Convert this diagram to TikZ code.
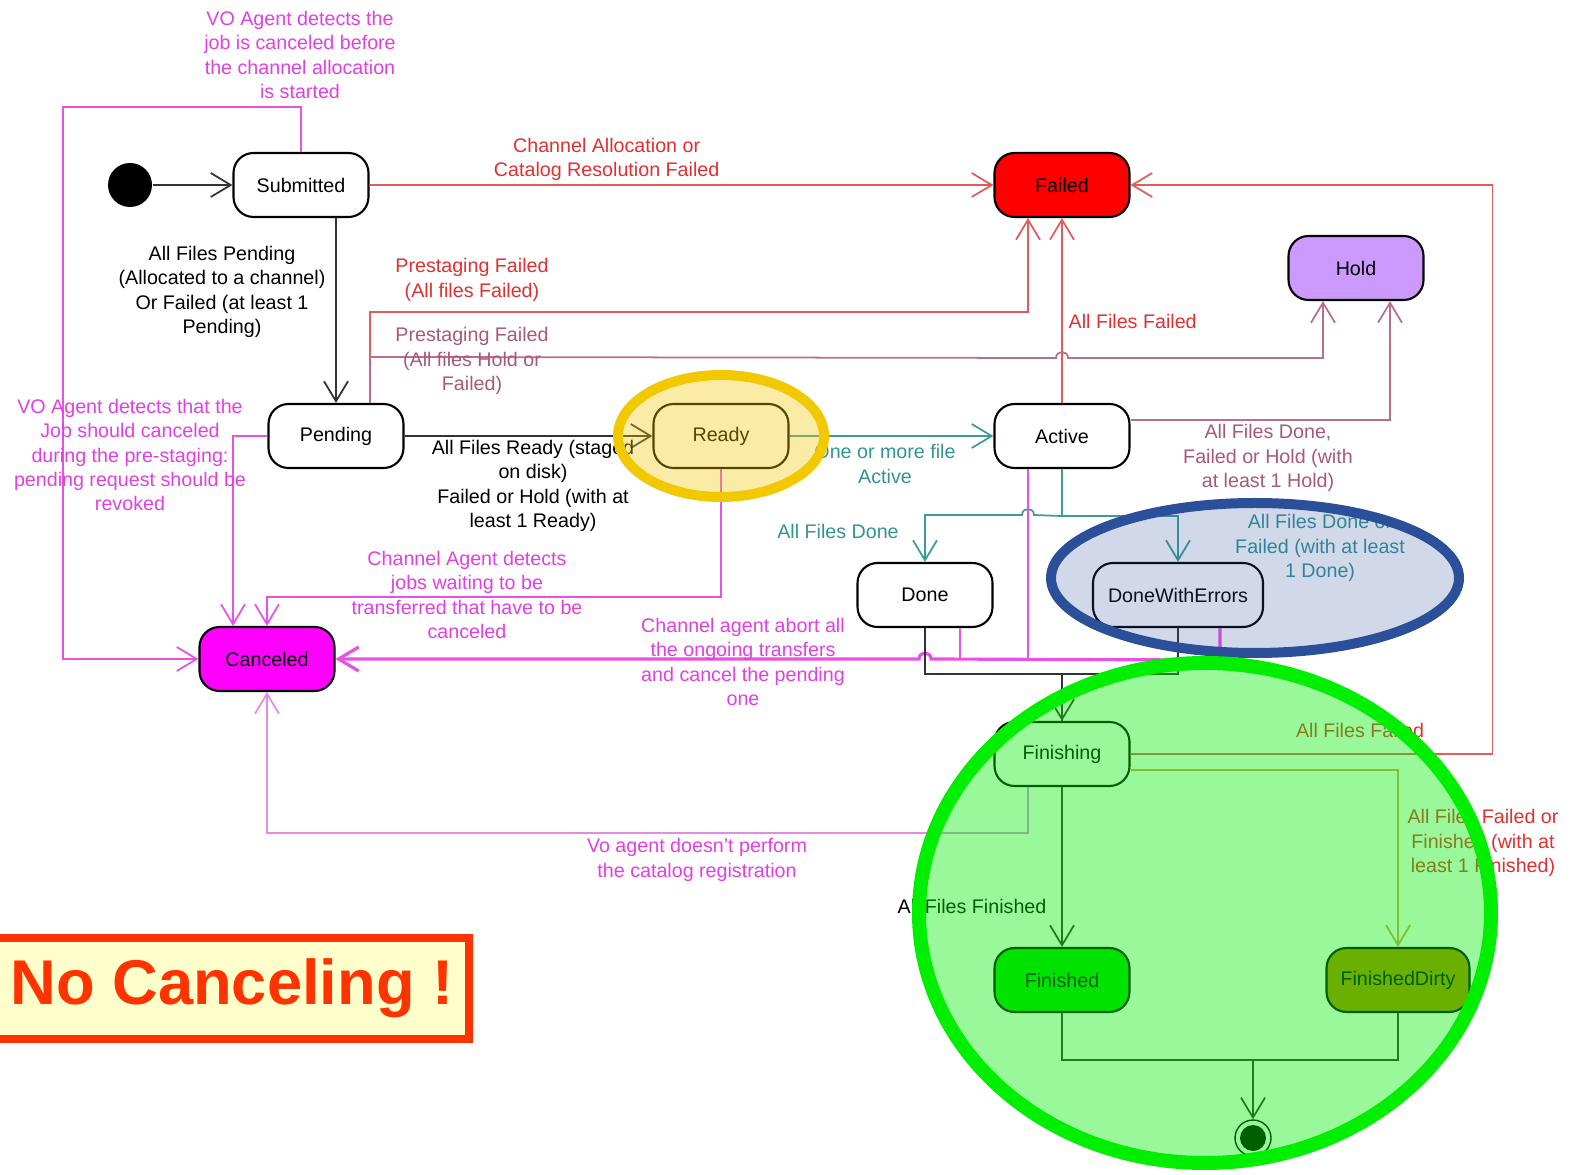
\documentclass[tikz,border=0pt]{standalone}
\usepackage{fontspec}
\setmainfont{Liberation Sans}
\usepackage{tikz}
\usetikzlibrary{positioning, arrows.meta}

\definecolor{redln}{HTML}{E25C5C}
\definecolor{redtx}{HTML}{E03030}
\definecolor{mauveln}{HTML}{B8708A}
\definecolor{mauvetx}{HTML}{A85878}
\definecolor{tealln}{HTML}{3C9C9C}
\definecolor{tealtx}{HTML}{339494}
\definecolor{magln}{HTML}{E850E8}
\definecolor{magtx}{HTML}{E040E0}
\definecolor{lmagln}{HTML}{E48CE4}
\definecolor{oliveln}{HTML}{D4A050}
\definecolor{failfill}{HTML}{FF0000}
\definecolor{holdfill}{HTML}{CC99FF}
\definecolor{cancfill}{HTML}{FF00FF}
\definecolor{finfill}{HTML}{00DD00}
\definecolor{dirtyfill}{HTML}{B08800}
\definecolor{ellyel}{HTML}{F2C800}
\definecolor{ellblue}{HTML}{2B4F99}
\definecolor{ellgreen}{HTML}{00EE00}
\definecolor{ncred}{HTML}{FF3300}
\definecolor{ncfill}{HTML}{FFFFCC}

\begin{document}
\begin{tikzpicture}[x=0.1mm, y=-0.1mm, >={Straight Barb[length=2mm,width=2.4mm]},
  every node/.style={font=\fontsize{5.6}{6.9}\selectfont},
  stbox/.style={draw, semithick, rounded corners=2mm, minimum width=13.5mm, minimum height=6.4mm},
  lbl/.style={align=center, inner sep=0pt},
  rln/.style={draw=redln, line width=0.5pt},
  mln/.style={draw=mauveln, line width=0.5pt},
  tln/.style={draw=tealln, line width=0.5pt},
  mgln/.style={draw=magln, line width=0.5pt},
  lmgln/.style={draw=lmagln, line width=0.5pt},
  oln/.style={draw=oliveln, line width=0.5pt},
  bln/.style={draw=black!80, line width=0.5pt}]
  \useasboundingbox (0,0) rectangle (1572,1175);

  \node[circle, fill, minimum size=4.4mm, inner sep=0pt] (init) at (130,185) {};
  \node[stbox] (sub) at (301,185) {Submitted};
  \node[stbox, fill=failfill, right of=sub, node distance=7.61cm] (failed) {Failed};
  \node[stbox, fill=holdfill] (hold) at (1356,268) {Hold};
  \node[stbox] (pend) at (336,436) {Pending};
  \node[stbox, right of=pend, node distance=3.85cm] (ready) {Ready};
  \node[stbox, right of=ready, node distance=3.41cm] (active) {Active};
  \node[stbox] (done) at (925,595) {Done};
  \node[stbox, minimum width=17mm] (dwe) at (1178,595) {DoneWithErrors};
  \node[stbox, fill=cancfill] (canc) at (267,659) {Canceled};
  \node[stbox] (fin) at (1062,754) {Finishing};
  \node[stbox, fill=finfill] (finok) at (1062,980) {Finished};
  \node[stbox, fill=dirtyfill, minimum width=14.3mm] (findirty) at (1398,980) {FinishedDirty};
  \node[circle, draw, minimum size=3.6mm, inner sep=0pt] (final) at (1253,1138) {};
  \node[circle, fill, minimum size=2.6mm, inner sep=0pt] (finaldot) at (final) {};
  \coordinate (jn) at (1253,1060);

  \draw[->, bln] (init) -- (sub);
  \draw[->, rln] (sub) -- node[lbl, above=1pt, pos=0.38, text=redtx] (lsubf) {Channel Allocation or\\Catalog Resolution Failed} (failed);
  \draw[->, bln] ([xshift=3.5mm]sub.south) -- (pend.north);
  \draw[->, rln] ([xshift=3.4mm]pend.north) -- ++(0,-91) -| ([xshift=-3.4mm]failed.south);
  \draw[->, mln] ([xshift=3.4mm]pend.north) -- ++(0,-46) -- (1056,358) .. controls (1056,350) and (1068,350) .. (1068,358) -| ([xshift=-3.3mm]hold.south);
  \draw[->, rln] (active) -- (failed);
  \draw[->, mln] ([yshift=1.6mm]active.east) -| ([xshift=3.4mm]hold.south);
  \draw[->, bln] (pend) -- (ready);
  \draw[->, tln] (ready) -- (active);
  \draw[->, tln] (active.south) -- ++(0,47) coordinate (tsplit) -| (dwe.north);
  \draw[->, tln] (tsplit) -- (1034,515) .. controls (1034,507) and (1022,507) .. (1022,515) -| (done.north);

  \draw[->, mgln] (sub.north) -- ++(0,-45) -- ++(-238,0) |- (canc.west);
  \draw[->, mgln] (pend.west) -| ([xshift=-3.4mm]canc.north);
  \draw[->, mgln] (ready.south) -- ++(0,128) -| (canc.north);
  \draw[->, mgln, line width=0.9pt] ([xshift=4.2mm]dwe.south) -- ++(0,32) -- (931,659) .. controls (931,651) and (919,651) .. (919,659) -- (canc.east);
  \draw[mgln] ([xshift=-3.4mm]active.south) -- ++(0,191);
  \draw[mgln] ([xshift=3.5mm]done.south) -- ++(0,32);
  \draw[->, lmgln] ([xshift=-3.4mm]fin.south) -- ++(0,46) -| (canc.south);

  \draw[->, bln] (done.south) -- ++(0,46) -| (fin.north);
  \draw[bln] (dwe.south) -- ++(0,46) -| (fin.north);
  \draw[->, rln] (fin.east) -- ++(362,0) |- (failed.east);
  \draw[->, oln] ([yshift=-1.6mm]fin.east) -| (findirty.north);
  \draw[->, bln] (fin) -- (finok);
  \draw[bln] (finok.south) |- (jn) -| (findirty.south);
  \draw[->, bln] (jn) -- (final);

  \node[lbl, text=magtx] (lvosub) at (300,55) {VO Agent detects the\\job is canceled before\\the channel allocation\\is started};
  \node[lbl] (lpend) at (222,292) {All Files Pending\\(Allocated to a channel)\\Or Failed (at least 1\\Pending)};
  \node[lbl, text=redtx] (lpfail) at (472,280) {Prestaging Failed\\(All files Failed)};
  \node[lbl, text=mauvetx] (lphold) at (472,361) {Prestaging Failed\\(All files Hold or\\Failed)};
  \node[lbl, text=redtx, anchor=west] (lactf) at (1068,321) {All Files Failed};
  \node[lbl, text=magtx] (lvopend) at (130,455) {VO Agent detects that the\\Job should canceled\\during the pre-staging:\\pending request should be\\revoked};
  \node[lbl] (lready) at (533,486) {All Files Ready (staged\\on disk)\\Failed or Hold (with at\\least 1 Ready)};
  \node[lbl, text=tealtx] (lact) at (885,464) {One or more file\\Active};
  \node[lbl, text=mauvetx] (lhold) at (1268,458) {All Files Done,\\Failed or Hold (with\\at least 1 Hold)};
  \node[lbl, text=tealtx] (ldone) at (838,531) {All Files Done};
  \node[lbl, text=tealtx] (ldwe) at (1320,548) {All Files Done or\\Failed (with at least\\1 Done)};
  \node[lbl, text=magtx] (lchan) at (467,595) {Channel Agent detects\\jobs waiting to be\\transferred that have to be\\canceled};
  \node[lbl, text=magtx] (labort) at (743,662) {Channel agent abort all\\the ongoing transfers\\and cancel the pending\\one};
  \node[lbl, text=magtx] (lvofin) at (697,860) {Vo agent doesn't perform\\the catalog registration};
  \node[lbl, text=redtx] (lffail) at (1360,730) {All Files Failed};
  \node[lbl, text=redtx] (ldirty) at (1483,843) {All Files Failed or\\Finished (with at\\least 1 Finished)};
  \node[lbl] (lfinok) at (972,906) {All Files Finished};

  \draw[line width=1mm, draw=ellyel, fill=ellyel, fill opacity=0.35] (ready) ellipse [x radius=103, y radius=61];
  \draw[line width=1mm, draw=ellblue, fill=ellblue, fill opacity=0.22] (1255,578) ellipse [x radius=204, y radius=75];
  \draw[line width=1.4mm, draw=ellgreen, fill=ellgreen, fill opacity=0.4] (1205,913) ellipse [x radius=286, y radius=250];

  \node[draw=ncred, line width=0.8mm, fill=ncfill, text=ncred, font=\bfseries\fontsize{18}{20}\selectfont, minimum width=47.4mm, minimum height=10.1mm, inner sep=0pt] (nocanc) at (232,988) {No Canceling !};
\end{tikzpicture}
\end{document}
